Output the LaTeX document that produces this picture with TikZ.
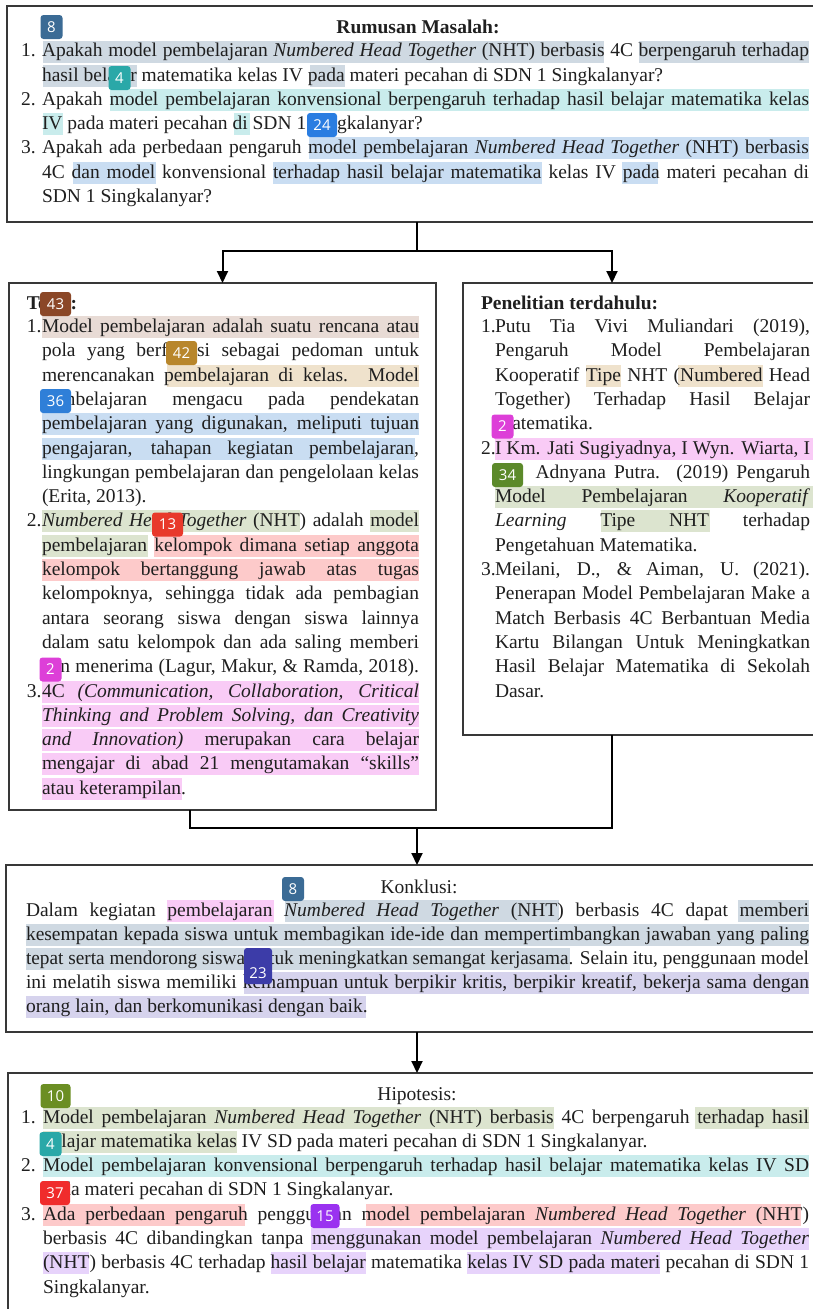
\documentclass[tikz,border=0pt]{standalone}
\usepackage{fontspec}
\setmainfont{Liberation Serif}
\newfontfamily\badgefont{Open Sans}
\usepackage{graphicx}
\usetikzlibrary{arrows.meta}

\definecolor{hGB}{HTML}{CFD9E2}
\definecolor{hCy}{HTML}{C9ECEC}
\definecolor{hLB}{HTML}{C9DDF2}
\definecolor{hBr}{HTML}{E8DBD5}
\definecolor{hBe}{HTML}{EFE2CC}
\definecolor{hGr}{HTML}{DCE4CF}
\definecolor{hRd}{HTML}{FDCACA}
\definecolor{hPk}{HTML}{F9CBF6}
\definecolor{hLv}{HTML}{D6D3ED}
\definecolor{hPu}{HTML}{E7D3FB}
\definecolor{bSteel}{HTML}{3B6B95}
\definecolor{bTeal}{HTML}{2AA8A8}
\definecolor{bBlue}{HTML}{2A7DE1}
\definecolor{bBrown}{HTML}{8B4727}
\definecolor{bOchre}{HTML}{B8862B}
\definecolor{bBlueB}{HTML}{2F7FD8}
\definecolor{bRed}{HTML}{E8392B}
\definecolor{bMag}{HTML}{DD3FD8}
\definecolor{bGreen}{HTML}{5C8A2A}
\definecolor{bIndigo}{HTML}{3C3CA8}
\definecolor{bOlive}{HTML}{6B8E23}
\definecolor{bRedB}{HTML}{F02C2C}
\definecolor{bPurple}{HTML}{9A32F0}

\newlength\fitw
\newcommand\fitline[2]{\settowidth\fitw{#2}\ifdim\fitw>#1pt\relax\scalebox{\fpeval{#1/\fitw}}[1]{#2}\else\makebox[#1pt][s]{#2}\fi}
\newcounter{tn}
\newcommand\J[4]{\stepcounter{tn}\node[txt] (t\arabic{tn}) at (#1,#2) {\fitline{#3}{#4}};}
\newcommand\N[3]{\stepcounter{tn}\node[txt] (t\arabic{tn}) at (#1,#2) {#3};}
\newcommand\HL[4]{\fill[#1] (#2,{#4-11}) rectangle (#3,{#4+11});}
\newcommand\B[5]{\stepcounter{tn}\node[badge, fill=#1, minimum width=#4pt] (b\arabic{tn}) at (#2,#3) {#5};}

\tikzset{
  txt/.style={anchor=base west, inner sep=0pt, outer sep=0pt, font=\fontsize{19.5}{24}\selectfont, text=black!88},
  badge/.style={rounded corners=3pt, text=white, inner sep=0pt, minimum height=24pt, font=\badgefont\fontsize{15}{15}\selectfont},
  box/.style={draw=black!78, line width=1.6pt, inner sep=0pt, outer sep=0pt, anchor=north west},
  conn/.style={draw=black, line width=2pt},
  arr/.style={conn, -{Triangle[width=11pt,length=12pt]}}
}

\begin{document}
\begin{tikzpicture}[x=1pt,y=-1pt]
\path[use as bounding box, fill=white] (0,0) rectangle (813,1309);
\clip (0,0) rectangle (813,1309);

% ---------- highlights ----------
% top box
\HL{hGB}{43}{604}{51.5}\HL{hGB}{639}{809}{51.5}
\HL{hGB}{43}{137}{75.5}\HL{hGB}{310}{345}{75.5}
\HL{hCy}{110}{809}{99.5}
\HL{hCy}{43}{63}{124}\HL{hCy}{234}{250}{124}
\HL{hLB}{309}{809}{148}
\HL{hLB}{73}{156}{172.5}\HL{hLB}{273}{542}{172.5}\HL{hLB}{622}{658}{172.5}
% teori
\HL{hBr}{42}{419}{327}
\HL{hBe}{167}{419}{375.6}
\HL{hLB}{42}{419}{424.2}
\HL{hLB}{42}{415}{448.5}
\HL{hGr}{42}{300}{521.4}\HL{hGr}{370}{419}{521.4}
\HL{hGr}{42}{148}{545.7}\HL{hRd}{154}{419}{545.7}
\HL{hRd}{42}{419}{570}
\HL{hPk}{42}{419}{691.5}
\HL{hPk}{42}{419}{715.8}
\HL{hPk}{42}{419}{740.1}
\HL{hPk}{42}{419}{764.4}
\HL{hPk}{42}{182}{788.7}
% penelitian
\HL{hBe}{586}{621}{375.6}\HL{hBe}{678}{763}{375.6}
\HL{hPk}{495}{813}{448.5}
\HL{hGr}{495}{813}{497.1}
\HL{hGr}{601}{710}{521.4}
% konklusi
\HL{hPk}{167}{274}{911}\HL{hGB}{285}{559}{911}\HL{hGB}{738}{809}{911}
\HL{hGB}{26}{809}{935}
\HL{hGB}{26}{570}{959}
\HL{hLv}{244}{809}{983}
\HL{hLv}{26}{366}{1007}
% hipotesis
\HL{hGr}{43}{554}{1118}\HL{hGr}{695}{809}{1118}
\HL{hGr}{43}{237}{1142}
\HL{hCy}{43}{809}{1166}
\HL{hRd}{43}{245}{1215}\HL{hRd}{366}{801}{1215}
\HL{hPu}{311}{809}{1239}
\HL{hPu}{43}{89}{1263}\HL{hPu}{271}{366}{1263}\HL{hPu}{467}{660}{1263}

% ---------- texts ----------
% Rumusan Masalah
\node[txt, anchor=base] (tRM) at (418,33) {\textbf{Rumusan Masalah:}};
\N{21}{56.5}{1.}
\J{42}{56.5}{767}{Apakah model pembelajaran \textit{Numbered Head Together} (NHT) berbasis 4C berpengaruh terhadap}
\N{42}{81}{hasil belajar matematika kelas IV pada materi pecahan di SDN 1 Singkalanyar?}
\N{21}{105}{2.}
\J{42}{105}{767}{Apakah model pembelajaran konvensional berpengaruh terhadap hasil belajar matematika kelas}
\N{42}{129.5}{IV pada materi pecahan di SDN 1 Singkalanyar?}
\N{21}{153.5}{3.}
\J{42}{153.5}{767}{Apakah ada perbedaan pengaruh model pembelajaran \textit{Numbered Head Together} (NHT) berbasis}
\J{42}{178}{767}{4C dan model konvensional terhadap hasil belajar matematika kelas IV pada materi pecahan di}
\N{42}{202.5}{SDN 1 Singkalanyar?}

% Teori
\node[txt] (tTE) at (27,309) {\textbf{Teori:}};
\N{27}{332.5}{1.}
\J{42}{332.5}{377}{Model pembelajaran adalah suatu rencana atau}
\J{42}{356.8}{377}{pola yang berfungsi sebagai pedoman untuk}
\J{42}{381.1}{377}{merencanakan pembelajaran di kelas. Model}
\J{42}{405.4}{377}{pembelajaran mengacu pada pendekatan}
\J{42}{429.7}{377}{pembelajaran yang digunakan, meliputi tujuan}
\J{42}{454}{377}{pengajaran, tahapan kegiatan pembelajaran,}
\J{42}{478.3}{377}{lingkungan pembelajaran dan pengelolaan kelas}
\N{42}{502.6}{(Erita, 2013).}
\N{27}{526.9}{2.}
\J{42}{526.9}{377}{\textit{Numbered Head Together} (NHT) adalah model}
\J{42}{551.2}{377}{pembelajaran kelompok dimana setiap anggota}
\J{42}{575.5}{377}{kelompok bertanggung jawab atas tugas}
\J{42}{599.8}{377}{kelompoknya, sehingga tidak ada pembagian}
\J{42}{624.1}{377}{antara seorang siswa dengan siswa lainnya}
\J{42}{648.4}{377}{dalam satu kelompok dan ada saling memberi}
\J{42}{672.7}{377}{dan menerima (Lagur, Makur, \& Ramda, 2018).}
\N{27}{697}{3.}
\J{42}{697}{377}{4C \textit{(Communication, Collaboration, Critical}}
\J{42}{721.3}{377}{\textit{Thinking and Problem Solving, dan Creativity}}
\J{42}{745.6}{377}{\textit{and Innovation)} merupakan cara belajar}
\J{42}{769.9}{377}{mengajar di abad 21 mengutamakan ``skills''}
\N{42}{794.2}{atau keterampilan.}

% Penelitian terdahulu
\node[txt] (tPT) at (481,309) {\textbf{Penelitian terdahulu:}};
\N{481}{332.5}{1.}
\J{495}{332.5}{315}{Putu Tia Vivi Muliandari (2019),}
\J{495}{356.8}{315}{Pengaruh Model Pembelajaran}
\J{495}{381.1}{315}{Kooperatif Tipe NHT (Numbered Head}
\J{495}{405.4}{315}{Together) Terhadap Hasil Belajar}
\N{495}{429.7}{Matematika.}
\N{481}{454}{2.}
\J{495}{454}{315}{I Km. Jati Sugiyadnya, I Wyn. Wiarta, I}
\J{495}{478.3}{315}{Kt. Adnyana Putra. (2019) Pengaruh}
\J{495}{502.6}{315}{Model Pembelajaran \textit{Kooperatif}}
\J{495}{526.9}{315}{\textit{Learning} Tipe NHT terhadap}
\N{495}{551.2}{Pengetahuan Matematika.}
\N{481}{575.5}{3.}
\J{495}{575.5}{315}{Meilani, D., \& Aiman, U. (2021).}
\J{495}{599.8}{315}{Penerapan Model Pembelajaran Make a}
\J{495}{624.1}{315}{Match Berbasis 4C Berbantuan Media}
\J{495}{648.4}{315}{Kartu Bilangan Untuk Meningkatkan}
\J{495}{672.7}{315}{Hasil Belajar Matematika di Sekolah}
\N{495}{697}{Dasar.}

% Konklusi
\node[txt, anchor=base] (tKO) at (419,893) {Konklusi:};
\J{26}{916.5}{783}{Dalam kegiatan pembelajaran \textit{Numbered Head Together} (NHT) berbasis 4C dapat memberi}
\J{26}{940.5}{783}{kesempatan kepada siswa untuk membagikan ide-ide dan mempertimbangkan jawaban yang paling}
\J{26}{964.5}{783}{tepat serta mendorong siswa untuk meningkatkan semangat kerjasama. Selain itu, penggunaan model}
\J{26}{988.5}{783}{ini melatih siswa memiliki kemampuan untuk berpikir kritis, berpikir kreatif, bekerja sama dengan}
\N{26}{1012.5}{orang lain, dan berkomunikasi dengan baik.}

% Hipotesis
\node[txt, anchor=base] (tHI) at (417,1100) {Hipotesis:};
\N{21}{1123.5}{1.}
\J{43}{1123.5}{766}{Model pembelajaran \textit{Numbered Head Together} (NHT) berbasis 4C berpengaruh terhadap hasil}
\N{43}{1147.5}{belajar matematika kelas IV SD pada materi pecahan di SDN 1 Singkalanyar.}
\N{21}{1171.5}{2.}
\J{43}{1171.5}{766}{Model pembelajaran konvensional berpengaruh terhadap hasil belajar matematika kelas IV SD}
\N{43}{1195.5}{pada materi pecahan di SDN 1 Singkalanyar.}
\N{21}{1220.5}{3.}
\J{43}{1220.5}{766}{Ada perbedaan pengaruh penggunaan model pembelajaran \textit{Numbered Head Together} (NHT)}
\J{43}{1244.5}{766}{berbasis 4C dibandingkan tanpa menggunakan model pembelajaran \textit{Numbered Head Together}}
\J{43}{1268.5}{766}{(NHT) berbasis 4C terhadap hasil belajar matematika kelas IV SD pada materi pecahan di SDN 1}
\N{43}{1293.5}{Singkalanyar.}

% ---------- badges ----------
\B{bSteel}{51.5}{27}{22}{8}
\B{bTeal}{119.5}{78}{22}{4}
\B{bBlue}{322}{125}{30}{24}
\B{bBrown}{55.5}{304}{31}{43}
\B{bOchre}{181.5}{353}{31}{42}
\B{bBlueB}{55.5}{401}{31}{36}
\B{bRed}{167.5}{524.5}{31}{13}
\B{bMag}{50.5}{669.5}{22}{2}
\B{bMag}{502.5}{426.5}{22}{2}
\B{bGreen}{507.5}{475}{31}{34}
\B{bSteel}{293}{889}{22}{8}
\node[badge, fill=bIndigo, minimum width=28pt, minimum height=36pt] (b23) at (258,966) {};
\node[badge, fill=none] (b23t) at (258,973) {23};
\B{bOlive}{55.5}{1096}{30}{10}
\B{bTeal}{50.5}{1144}{22}{4}
\B{bRedB}{55}{1193}{30}{37}
\B{bPurple}{325}{1216}{29}{15}

% ---------- boxes ----------
\node[box, minimum width=893pt, minimum height=216pt] (rm) at (7,6) {};
\node[box, minimum width=427pt, minimum height=527pt] (teori) at (9,283) {};
\node[box, minimum width=437pt, minimum height=452pt] (pen) at (463,283) {};
\node[box, minimum width=894pt, minimum height=167pt] (kon) at (6,865) {};
\node[box, minimum width=892pt, minimum height=327pt] (hip) at (8,1073) {};

% ---------- connectors ----------
\coordinate (j1) at (417,251);
\coordinate (jr) at (612,251);
\coordinate (jl) at (190,828);
\coordinate (jm) at (417,828);
\coordinate (jr2) at (612,828);
\draw[conn] (rm.south -| j1) -- (j1);
\draw[arr] (j1) -| (teori.north);
\draw[arr] (j1) -- (jr) -- (jr |- pen.north);
\draw[conn] (teori.south -| jl) -- (jl) -- (jr2) -- (jr2 |- pen.south);
\draw[arr] (jm) -- (jm |- kon.north);
\draw[arr] (kon.south -| jm) -- (hip.north -| jm);
\end{tikzpicture}
\end{document}
